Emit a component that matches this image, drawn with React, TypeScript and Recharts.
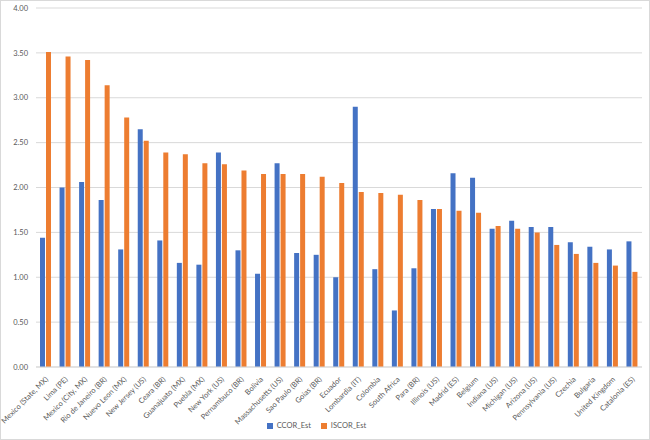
import { Bar, BarChart, CartesianGrid, Legend, XAxis, YAxis } from 'recharts'

const regions = [
  'Mexico (State, MX)', 'Lima (PE)', 'Mexico (City, MX)', 'Rio de Janeiro (BR)', 'Nuevo Leon (MX)',
  'New Jersey (US)', 'Ceara (BR)', 'Guanajuato (MX)', 'Puebla (MX)', 'New York (US)',
  'Pernambuco (BR)', 'Bolivia', 'Massachusetts (US)', 'Sao Paulo (BR)', 'Goias (BR)',
  'Ecuador', 'Lombardia (IT)', 'Colombia', 'South Africa', 'Para (BR)',
  'Illinois (US)', 'Madrid (ES)', 'Belgium', 'Indiana (US)', 'Michigan (US)',
  'Arizona (US)', 'Pennsylvania (US)', 'Czechia', 'Bulgaria', 'United Kingdom', 'Catalonia (ES)',
]

const ccorEst = [
  1.44, 2.0, 2.06, 1.86, 1.31, 2.65, 1.41, 1.16, 1.14, 2.39,
  1.3, 1.04, 2.27, 1.27, 1.25, 1.0, 2.9, 1.09, 0.63, 1.1,
  1.76, 2.16, 2.11, 1.54, 1.63, 1.56, 1.56, 1.39, 1.34, 1.31, 1.4,
]

const iscorEst = [
  3.51, 3.46, 3.42, 3.14, 2.78, 2.52, 2.39, 2.37, 2.27, 2.26,
  2.19, 2.15, 2.15, 2.15, 2.12, 2.05, 1.95, 1.94, 1.92, 1.86,
  1.76, 1.74, 1.72, 1.57, 1.54, 1.5, 1.36, 1.26, 1.16, 1.13, 1.06,
]

const yTicks = [0, 0.5, 1, 1.5, 2, 2.5, 3, 3.5, 4]

const chartData = regions.map((name, i) => ({
  name,
  CCOR_Est: ccorEst[i],
  ISCOR_Est: iscorEst[i],
}))

const FONT = 'Lato, "Liberation Sans", sans-serif'
const TEXT = '#595959'

function RotatedTick({ x, y, payload }: { x?: number; y?: number; payload?: { value: string } }) {
  return (
    <g transform={`translate(${x},${(y ?? 0) + 2})`}>
      <text
        transform='rotate(-45)'
        textAnchor='end'
        dy={4}
        fontSize={7.5}
        fill={TEXT}
        fontFamily={FONT}
      >
        {payload?.value}
      </text>
    </g>
  )
}

export default function App() {
  return (
    <div
      style={{
        position: 'fixed',
        top: 0,
        left: 0,
        width: 650,
        height: 440,
        border: '1px solid #d9d9d9',
        boxSizing: 'border-box',
        background: '#fff',
      }}
    >
      <BarChart
        width={648}
        height={438}
        data={chartData}
        margin={{ top: 7, right: 7, left: 0, bottom: 0 }}
        barSize={5}
        barGap={1}
      >
        <CartesianGrid vertical={false} stroke='#d9d9d9' />
        <XAxis
          dataKey='name'
          interval={0}
          height={54}
          tick={<RotatedTick />}
          tickLine={false}
          axisLine={{ stroke: '#d9d9d9' }}
        />
        <YAxis
          width={35}
          domain={[0, 4]}
          ticks={yTicks}
          tickFormatter={v => Number(v).toFixed(2)}
          axisLine={false}
          tickLine={false}
          tick={{ fontSize: 7.5, fill: TEXT, fontFamily: FONT }}
        />
        <Legend
          height={18}
          iconType='square'
          iconSize={6}
          wrapperStyle={{ fontSize: 7.5, fontFamily: FONT, color: TEXT }}
          formatter={value => <span style={{ color: TEXT }}>{value}</span>}
        />
        <Bar dataKey='CCOR_Est' fill='#4472C4' isAnimationActive={false} />
        <Bar dataKey='ISCOR_Est' fill='#ED7D31' isAnimationActive={false} />
      </BarChart>
    </div>
  )
}
